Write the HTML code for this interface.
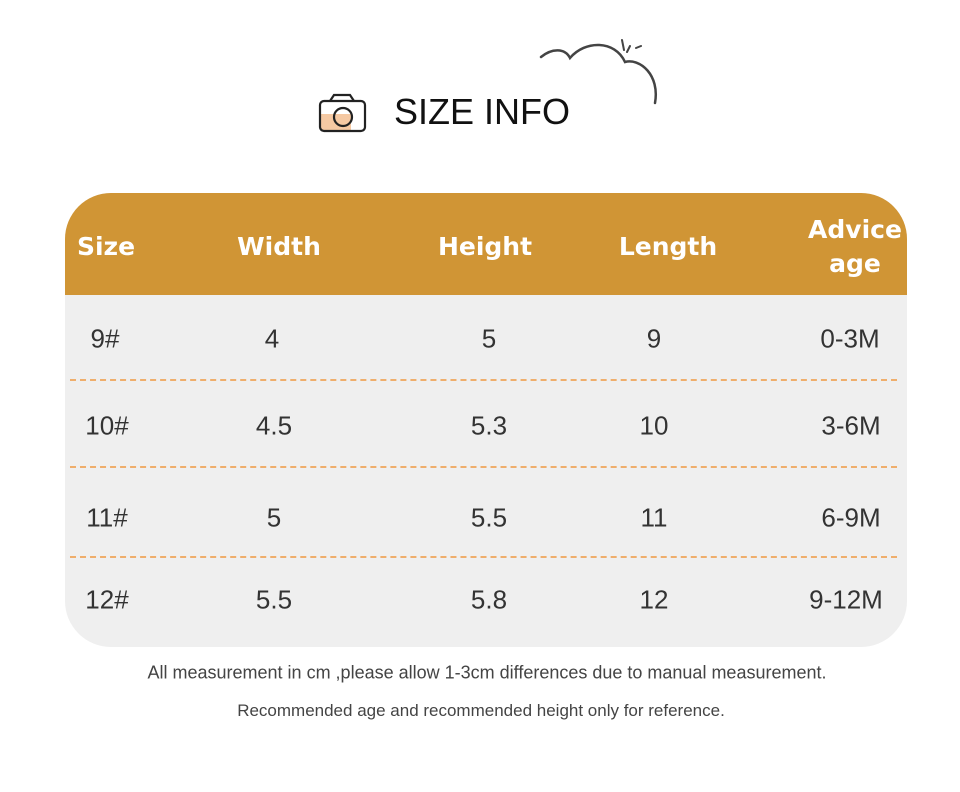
<!DOCTYPE html>
<html><head><meta charset="utf-8"><style>
body{margin:0;width:960px;height:792px;background:#fff;position:relative;font-family:"Liberation Sans","DejaVu Sans",sans-serif;overflow:hidden}
.a{position:absolute;white-space:nowrap;transform:translate(-50%,-50%)}
.h{color:#fff;font-weight:bold;font-size:25px;font-family:"DejaVu Sans","Liberation Sans",sans-serif;text-align:center;line-height:34px}
.c{color:#333;font-size:26px}
.d{position:absolute;left:70px;width:827px;border-top:2px dashed #efae6c}
</style></head><body>
<svg style="position:absolute;left:0;top:0" width="960" height="200">
<path d="M541 57 C552 48 565 48 570 58 C585 40 615 40 625 62 C640 58 660 75 655 103" fill="none" stroke="#444" stroke-width="2.5" stroke-linecap="round"/>
<path d="M622 40 L624 50 M630 46 L627 52 M636 48 L641 46" stroke="#444" stroke-width="2" stroke-linecap="round"/>
<rect x="320" y="101" width="45" height="30" rx="4" fill="#fff"/>
<rect x="321" y="114" width="30" height="17" fill="#f5c9a3"/>
<rect x="320" y="101" width="45" height="30" rx="4" fill="none" stroke="#222" stroke-width="2.2"/>
<path d="M330 101 L334 95 L350 95 L354 101" fill="none" stroke="#222" stroke-width="2.2"/>
<circle cx="343" cy="117" r="9" fill="none" stroke="#222" stroke-width="2.2"/>
</svg>
<div class="a" style="left:482px;top:112px;font-size:36px;color:#111">SIZE INFO</div>
<div style="position:absolute;left:65px;top:193px;width:842px;height:454px;border-radius:46px;background:#efefef;overflow:hidden">
<div style="height:102px;background:#d09535"></div></div>
<div class="a h" style="left:106px;top:247px">Size</div>
<div class="a h" style="left:279px;top:247px">Width</div>
<div class="a h" style="left:485px;top:247px">Height</div>
<div class="a h" style="left:668px;top:247px">Length</div>
<div class="a h" style="left:855px;top:247px">Advice<br>age</div>
<div class="d" style="top:379px"></div><div class="d" style="top:466px"></div><div class="d" style="top:556px"></div>
<div class="a c" style="left:105px;top:339px">9#</div><div class="a c" style="left:272px;top:339px">4</div><div class="a c" style="left:489px;top:339px">5</div><div class="a c" style="left:654px;top:339px">9</div><div class="a c" style="left:850px;top:339px">0-3M</div>
<div class="a c" style="left:107px;top:426px">10#</div><div class="a c" style="left:274px;top:426px">4.5</div><div class="a c" style="left:489px;top:426px">5.3</div><div class="a c" style="left:654px;top:426px">10</div><div class="a c" style="left:851px;top:426px">3-6M</div>
<div class="a c" style="left:107px;top:518px">11#</div><div class="a c" style="left:274px;top:518px">5</div><div class="a c" style="left:489px;top:518px">5.5</div><div class="a c" style="left:654px;top:518px">11</div><div class="a c" style="left:851px;top:518px">6-9M</div>
<div class="a c" style="left:107px;top:600px">12#</div><div class="a c" style="left:274px;top:600px">5.5</div><div class="a c" style="left:489px;top:600px">5.8</div><div class="a c" style="left:654px;top:600px">12</div><div class="a c" style="left:846px;top:600px">9-12M</div>
<div class="a" style="left:487px;top:673px;font-size:18px;color:#444">All measurement in cm ,please allow 1-3cm differences due to manual measurement.</div>
<div class="a" style="left:481px;top:711px;font-size:17px;color:#444">Recommended age and recommended height only for reference.</div>
</body></html>
